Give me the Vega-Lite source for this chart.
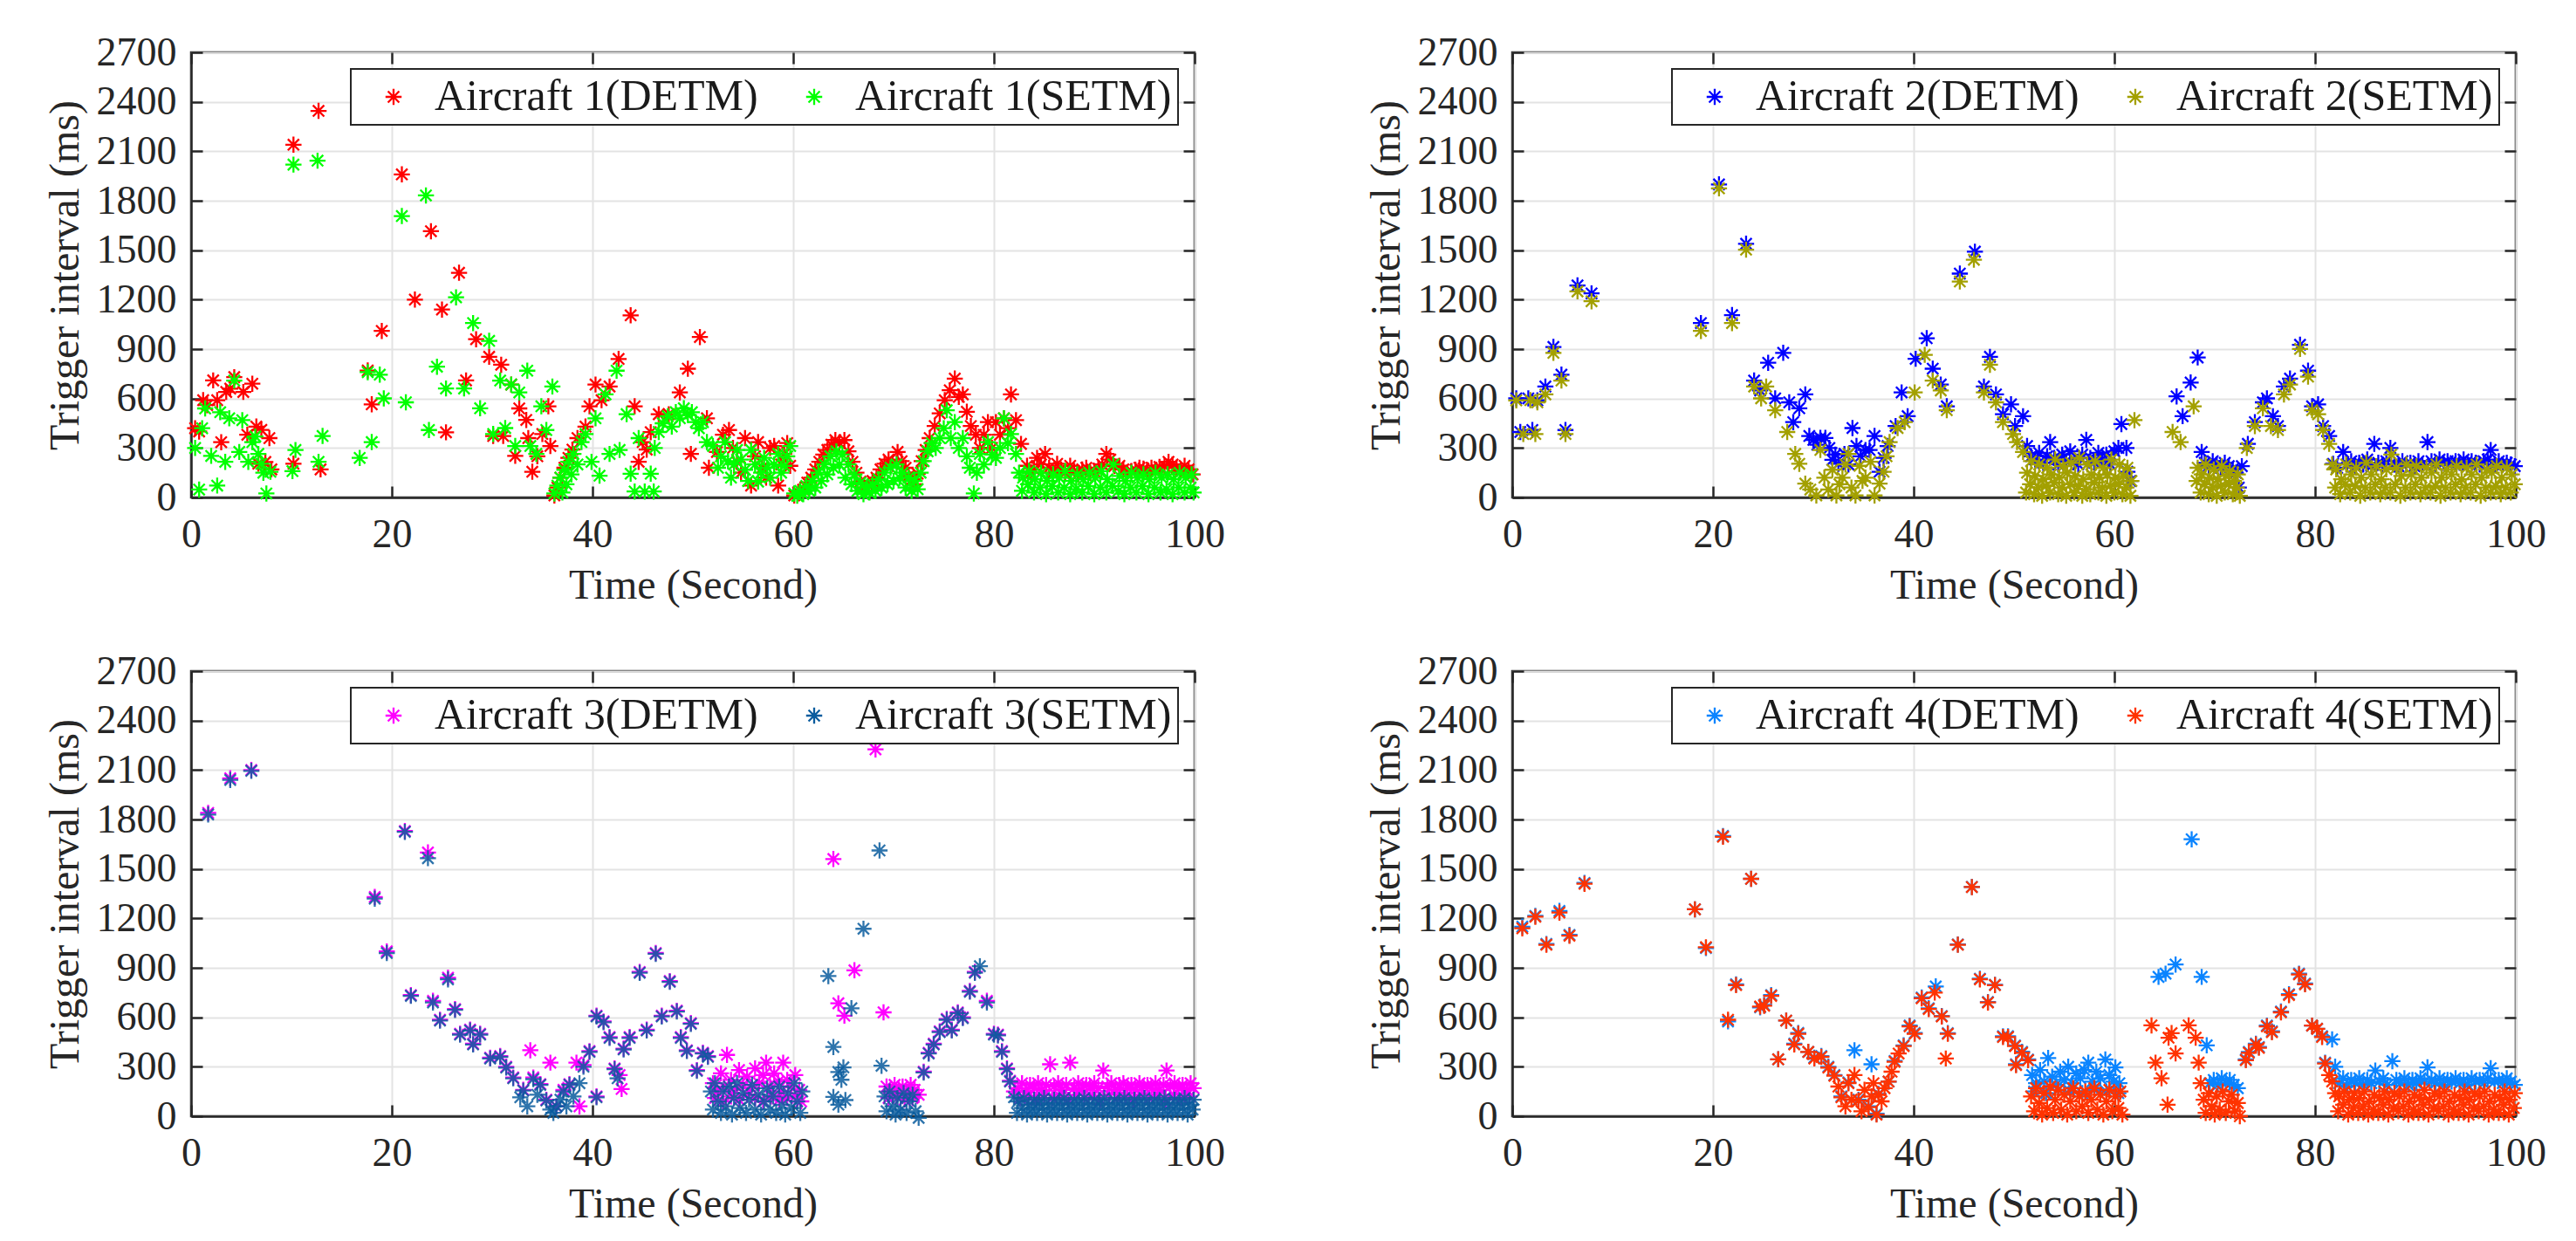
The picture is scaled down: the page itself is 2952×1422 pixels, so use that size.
{
  "$schema": "https://vega.github.io/schema/vega-lite/v6.json",
  "background": "white",
  "padding": {"left": 49, "top": 35, "right": 5, "bottom": 5},
  "config": {
    "font": "Liberation Serif",
    "view": {"stroke": "#262626", "strokeWidth": 2.5},
    "axis": {
      "labelFont": "Liberation Serif", "labelFontSize": 46, "labelColor": "#262626",
      "titleFont": "Liberation Serif", "titleFontSize": 48, "titleFontWeight": "normal", "titleColor": "#262626",
      "domainColor": "#262626", "domainWidth": 2.5, "tickColor": "#262626", "tickWidth": 2.5, "tickSize": -13,
      "gridColor": "#e3e3e3", "gridWidth": 2, "labelFlush": false, "labelOverlap": false, "format": "d"
    },
    "axisX": {"labelPadding": 33, "titlePadding": 12},
    "axisY": {"labelPadding": 30, "titlePadding": 11},
    "point": {"shape": "M-1,0L1,0M0,-1L0,1M-0.7,-0.7L0.7,0.7M-0.7,0.7L0.7,-0.7", "filled": false, "size": 340, "strokeWidth": 2.3, "opacity": 1},
    "legend": {
      "orient": "top-right", "offset": 19, "direction": "horizontal", "columns": 2, "gridAlign": "each",
      "labelFont": "Liberation Serif", "labelFontSize": 50, "labelColor": "#1a1a1a", "labelLimit": 900,
      "padding": 7, "strokeColor": "#262626", "strokeWidth": 2, "fillColor": "#ffffff",
      "symbolType": "M-1,0L1,0M0,-1L0,1M-0.7,-0.7L0.7,0.7M-0.7,0.7L0.7,-0.7",
      "symbolSize": 340, "symbolStrokeWidth": 2, "symbolOffset": 17, "labelOffset": 22, "columnPadding": 22
    }
  },
  "datasets": {
    "a1d": [
      {"t":0.4,"v":420},{"t":0.8,"v":400},{"t":1.2,"v":590},{"t":1.6,"v":560},{"t":2.2,"v":710},{"t":2.6,"v":590},{"t":3.0,"v":335},{"t":3.5,"v":640},{"t":3.9,"v":660},{"t":4.3,"v":730},{"t":5.2,"v":640},{"t":5.6,"v":380},{"t":6.1,"v":690},{"t":6.5,"v":430},{"t":6.7,"v":205},{"t":7.0,"v":410},{"t":7.4,"v":215},{"t":7.8,"v":360},{"t":8.0,"v":170},
      {"t":10.2,"v":2140},{"t":10.2,"v":205},{"t":12.7,"v":2345},{"t":12.9,"v":170},{"t":17.6,"v":770},{"t":18.0,"v":565},{"t":19.0,"v":1010},{"t":21.0,"v":1960},{"t":22.3,"v":1200},{"t":23.9,"v":1615},{"t":25.0,"v":1140},{"t":25.4,"v":395},{"t":26.7,"v":1363},{"t":27.4,"v":710},{"t":28.4,"v":960},{"t":29.7,"v":853},{"t":30.1,"v":373},{"t":30.9,"v":805},{"t":31.1,"v":373},{"t":31.9,"v":685},{"t":32.3,"v":252},{"t":32.7,"v":540},{"t":33.4,"v":470},{"t":33.6,"v":360},{"t":34.0,"v":156},{"t":34.5,"v":250},{"t":35.0,"v":385},{"t":35.6,"v":553},{"t":35.8,"v":312},
      {"t":36.2,"v":12},{"t":36.5,"v":60},{"t":36.8,"v":120},{"t":37.2,"v":180},{"t":37.6,"v":240},{"t":38.0,"v":290},{"t":38.5,"v":360},{"t":39.3,"v":430},{"t":39.7,"v":553},{"t":40.3,"v":685},{"t":40.9,"v":590},{"t":41.7,"v":673},{"t":42.6,"v":840},{"t":43.8,"v":1105},{"t":44.2,"v":553},{"t":44.6,"v":216},{"t":45.0,"v":336},{"t":45.4,"v":290},{"t":45.8,"v":396},{"t":46.6,"v":505},{"t":47.6,"v":505},{"t":48.7,"v":637},{"t":49.5,"v":781},{"t":49.8,"v":264},{"t":50.7,"v":973},{"t":51.4,"v":480},{"t":51.6,"v":180},{"t":52.4,"v":276},{"t":53.0,"v":380},{"t":53.6,"v":409},{"t":54.0,"v":300},{"t":54.4,"v":216},{"t":54.8,"v":150},{"t":55.2,"v":360},{"t":55.8,"v":72},{"t":56.2,"v":250},{"t":56.5,"v":336},{"t":56.9,"v":180},{"t":57.3,"v":120},{"t":57.7,"v":300},{"t":58.1,"v":312},{"t":58.5,"v":72},{"t":58.8,"v":200},{"t":59.1,"v":264},{"t":59.4,"v":330},{"t":59.7,"v":192},
      {"t":60.1,"v":12},{"t":60.5,"v":30},{"t":61.0,"v":48},{"t":61.4,"v":90},{"t":61.8,"v":120},{"t":62.2,"v":170},{"t":62.6,"v":216},{"t":63.0,"v":260},{"t":63.4,"v":288},{"t":63.8,"v":320},{"t":64.2,"v":348},{"t":64.6,"v":330},{"t":65.1,"v":348},{"t":65.5,"v":280},{"t":65.9,"v":216},{"t":66.3,"v":150},{"t":66.7,"v":96},{"t":67.1,"v":60},{"t":67.5,"v":72},{"t":67.9,"v":100},{"t":68.3,"v":120},{"t":68.7,"v":170},{"t":69.1,"v":204},{"t":69.5,"v":230},{"t":69.9,"v":204},{"t":70.4,"v":276},{"t":70.8,"v":220},{"t":71.2,"v":180},{"t":71.5,"v":130},{"t":71.8,"v":108},{"t":72.1,"v":80},{"t":72.4,"v":144},{"t":72.8,"v":220},{"t":73.2,"v":288},{"t":73.6,"v":360},{"t":74.1,"v":433},{"t":74.6,"v":510},{"t":75.1,"v":590},{"t":75.6,"v":650},{"t":76.1,"v":721},{"t":76.5,"v":610},{"t":76.9,"v":625},{"t":77.3,"v":520},{"t":77.7,"v":433},{"t":78.2,"v":380},{"t":78.6,"v":300},{"t":79.0,"v":380},{"t":79.4,"v":457},{"t":79.8,"v":300},{"t":80.2,"v":457},{"t":80.6,"v":380},{"t":81.0,"v":480},{"t":81.4,"v":420},{"t":81.7,"v":625},{"t":82.2,"v":469},{"t":82.7,"v":325},
      {"t":83.3,"v":192},{"t":83.7,"v":150},{"t":84.0,"v":170},{"t":84.3,"v":240},{"t":84.7,"v":200},{"t":85.1,"v":264},{"t":85.5,"v":180},{"t":85.9,"v":150},{"t":86.3,"v":204},{"t":86.7,"v":170},{"t":87.1,"v":150},{"t":87.6,"v":192},{"t":88.0,"v":160},{"t":88.4,"v":140},{"t":88.8,"v":170},{"t":89.2,"v":180},{"t":89.6,"v":150},{"t":90.0,"v":160},{"t":90.4,"v":175},{"t":90.8,"v":200},{"t":91.2,"v":264},{"t":91.6,"v":230},{"t":92.0,"v":190},{"t":92.5,"v":192},{"t":92.9,"v":170},{"t":93.3,"v":150},{"t":93.7,"v":160},{"t":94.1,"v":168},{"t":94.5,"v":180},{"t":94.9,"v":175},{"t":95.3,"v":165},{"t":95.7,"v":180},{"t":96.1,"v":160},{"t":96.5,"v":185},{"t":97.0,"v":190},{"t":97.4,"v":216},{"t":97.8,"v":200},{"t":98.2,"v":180},{"t":98.6,"v":160},{"t":99.0,"v":192},{"t":99.4,"v":170},{"t":99.8,"v":140}
    ],
    "a1s": [
      {"t":0.4,"v":300},{"t":0.8,"v":48},{"t":1.1,"v":420},{"t":1.4,"v":540},{"t":2.0,"v":252},{"t":2.6,"v":72},{"t":2.9,"v":517},{"t":3.4,"v":216},{"t":3.8,"v":480},{"t":4.3,"v":709},{"t":4.8,"v":276},{"t":5.1,"v":469},{"t":5.7,"v":216},{"t":6.1,"v":336},{"t":6.4,"v":370},{"t":6.7,"v":264},{"t":7.0,"v":204},{"t":7.2,"v":150},{"t":7.5,"v":24},{"t":7.9,"v":156},
      {"t":10.2,"v":2019},{"t":10.4,"v":288},{"t":10.1,"v":160},{"t":12.6,"v":2043},{"t":12.7,"v":216},{"t":13.1,"v":373},{"t":16.8,"v":240},{"t":17.6,"v":760},{"t":18.0,"v":336},{"t":18.8,"v":745},{"t":19.2,"v":601},{"t":21.0,"v":1707},{"t":21.4,"v":577},{"t":23.4,"v":1832},{"t":23.7,"v":409},{"t":24.5,"v":793},{"t":25.4,"v":661},{"t":26.4,"v":1214},{"t":27.2,"v":661},{"t":28.1,"v":1058},{"t":28.8,"v":541},{"t":29.7,"v":950},{"t":30.1,"v":385},{"t":30.8,"v":709},{"t":31.3,"v":421},{"t":31.9,"v":685},{"t":32.3,"v":312},{"t":32.7,"v":637},{"t":33.5,"v":769},{"t":33.8,"v":312},{"t":34.4,"v":264},{"t":34.9,"v":553},{"t":35.4,"v":409},{"t":36.0,"v":673},
      {"t":36.2,"v":24},{"t":36.5,"v":72},{"t":36.8,"v":120},{"t":37.0,"v":30},{"t":37.2,"v":168},{"t":37.4,"v":80},{"t":37.6,"v":216},{"t":37.9,"v":140},{"t":38.1,"v":264},{"t":38.5,"v":200},{"t":38.9,"v":336},{"t":39.3,"v":385},{"t":39.9,"v":216},{"t":40.3,"v":480},{"t":40.7,"v":132},{"t":41.3,"v":625},{"t":41.7,"v":264},{"t":42.4,"v":769},{"t":42.7,"v":288},{"t":43.4,"v":505},{"t":43.8,"v":144},{"t":44.2,"v":36},{"t":44.6,"v":360},{"t":45.2,"v":36},{"t":45.8,"v":144},{"t":46.1,"v":36},{"t":46.2,"v":300},{"t":46.6,"v":397},{"t":47.0,"v":450},{"t":47.5,"v":493},{"t":47.9,"v":430},{"t":48.3,"v":517},{"t":48.7,"v":480},{"t":49.1,"v":541},{"t":49.5,"v":500},{"t":49.9,"v":517},{"t":50.3,"v":457},{"t":50.6,"v":420},{"t":51.0,"v":457},{"t":51.4,"v":336},
      {"t":52.0,"v":312},{"t":52.5,"v":180},{"t":52.8,"v":250},{"t":53.2,"v":336},{"t":53.5,"v":220},{"t":53.8,"v":120},{"t":54.1,"v":200},{"t":54.4,"v":288},{"t":54.8,"v":230},{"t":55.2,"v":168},{"t":55.5,"v":100},{"t":55.8,"v":288},{"t":56.2,"v":200},{"t":56.5,"v":96},{"t":56.8,"v":150},{"t":57.1,"v":240},{"t":57.4,"v":180},{"t":57.7,"v":120},{"t":58.1,"v":200},{"t":58.5,"v":264},{"t":58.8,"v":150},{"t":59.1,"v":192},{"t":59.4,"v":250},{"t":59.7,"v":312},
      {"t":60.1,"v":24},{"t":60.4,"v":10},{"t":60.7,"v":40},{"t":61.0,"v":20},{"t":61.3,"v":70},{"t":61.6,"v":40},{"t":61.9,"v":100},{"t":62.2,"v":60},{"t":62.5,"v":150},{"t":62.8,"v":100},{"t":63.1,"v":200},{"t":63.4,"v":140},{"t":63.7,"v":250},{"t":64.0,"v":180},{"t":64.3,"v":280},{"t":64.6,"v":200},{"t":64.9,"v":260},{"t":65.2,"v":120},{"t":65.5,"v":200},{"t":65.8,"v":80},{"t":66.1,"v":140},{"t":66.4,"v":40},{"t":66.7,"v":90},{"t":67.0,"v":20},{"t":67.3,"v":60},{"t":67.6,"v":30},{"t":67.9,"v":80},{"t":68.2,"v":40},{"t":68.5,"v":110},{"t":68.8,"v":60},{"t":69.1,"v":150},{"t":69.4,"v":80},{"t":69.7,"v":180},{"t":70.0,"v":100},{"t":70.3,"v":200},{"t":70.6,"v":120},{"t":70.9,"v":150},{"t":71.2,"v":60},{"t":71.5,"v":120},{"t":71.8,"v":40},{"t":72.1,"v":100},{"t":72.4,"v":50},{"t":72.7,"v":150},{"t":73.0,"v":220},{"t":73.4,"v":280},{"t":73.8,"v":330},{"t":74.2,"v":300},{"t":74.6,"v":360},{"t":75.0,"v":420},{"t":75.3,"v":529},{"t":75.7,"v":360},{"t":76.1,"v":457},{"t":76.5,"v":300},{"t":76.9,"v":360},{"t":77.3,"v":250},{"t":77.6,"v":180},{"t":78.0,"v":24},{"t":78.3,"v":150},{"t":78.6,"v":264},{"t":79.0,"v":200},{"t":79.4,"v":336},{"t":79.8,"v":260},{"t":80.2,"v":240},{"t":80.6,"v":300},{"t":81.0,"v":480},{"t":81.4,"v":330},{"t":81.7,"v":385},{"t":82.2,"v":264},{"t":82.5,"v":150},
      {"t":82.8,"v":40},{"t":82.9,"v":120},{"t":83.4,"v":80},{"t":83.5,"v":160},{"t":84.0,"v":30},{"t":84.1,"v":110},{"t":84.6,"v":60},{"t":84.7,"v":150},{"t":85.2,"v":20},{"t":85.3,"v":100},{"t":85.8,"v":70},{"t":85.9,"v":140},{"t":86.4,"v":30},{"t":86.5,"v":120},{"t":87.0,"v":60},{"t":87.1,"v":160},{"t":87.6,"v":20},{"t":87.7,"v":100},{"t":88.2,"v":50},{"t":88.3,"v":140},{"t":88.8,"v":30},{"t":88.9,"v":110},{"t":89.4,"v":70},{"t":89.5,"v":150},{"t":90.0,"v":20},{"t":90.1,"v":120},{"t":90.6,"v":60},{"t":90.7,"v":160},{"t":91.2,"v":30},{"t":91.3,"v":110},{"t":91.8,"v":70},{"t":91.9,"v":200},{"t":92.4,"v":40},{"t":92.5,"v":130},{"t":93.0,"v":20},{"t":93.1,"v":100},{"t":93.6,"v":60},{"t":93.7,"v":150},{"t":94.2,"v":30},{"t":94.3,"v":120},{"t":94.8,"v":70},{"t":94.9,"v":140},{"t":95.4,"v":20},{"t":95.5,"v":110},{"t":96.0,"v":60},{"t":96.1,"v":150},{"t":96.6,"v":30},{"t":96.7,"v":120},{"t":97.2,"v":50},{"t":97.3,"v":140},{"t":97.8,"v":20},{"t":97.9,"v":110},{"t":98.4,"v":60},{"t":98.5,"v":150},{"t":99.0,"v":30},{"t":99.1,"v":120},{"t":99.6,"v":60},{"t":99.7,"v":140},{"t":99.9,"v":30}
    ],
    "a2d": [
      {"t":0.4,"v":601},{"t":0.8,"v":397},{"t":1.6,"v":601},{"t":2.0,"v":409},{"t":2.5,"v":589},{"t":3.3,"v":673},{"t":4.1,"v":913},{"t":4.9,"v":745},{"t":5.3,"v":409},{"t":6.5,"v":1286},{"t":7.9,"v":1238},{"t":18.8,"v":1058},{"t":20.6,"v":1899},{"t":21.9,"v":1106},{"t":23.3,"v":1539},{"t":24.1,"v":709},{"t":24.7,"v":649},{"t":25.5,"v":817},{"t":26.2,"v":601},{"t":27.0,"v":877},{"t":27.6,"v":577},{"t":28.0,"v":457},{"t":28.6,"v":541},{"t":29.2,"v":625},{"t":29.6,"v":373},{"t":30.0,"v":349},{"t":30.4,"v":320},{"t":30.7,"v":361},{"t":31.2,"v":361},{"t":31.6,"v":300},{"t":31.9,"v":228},{"t":32.2,"v":260},{"t":32.5,"v":204},{"t":33.1,"v":264},{"t":33.5,"v":200},{"t":33.9,"v":421},{"t":34.3,"v":312},{"t":34.7,"v":250},{"t":35.2,"v":288},{"t":35.6,"v":288},{"t":36.1,"v":373},{"t":36.6,"v":156},{"t":37.0,"v":240},{"t":37.4,"v":312},{"t":38.2,"v":433},{"t":38.8,"v":637},{"t":39.4,"v":493},{"t":40.2,"v":841},{"t":41.3,"v":966},{"t":41.9,"v":781},{"t":42.7,"v":685},{"t":43.3,"v":553},{"t":44.6,"v":1358},{"t":46.1,"v":1491},{"t":47.0,"v":673},{"t":47.6,"v":853},{"t":48.2,"v":625},{"t":48.9,"v":505},{"t":49.7,"v":565},{"t":50.1,"v":433},{"t":50.9,"v":493},{"t":51.3,"v":312},
      {"t":51.7,"v":250},{"t":52.1,"v":230},{"t":52.5,"v":270},{"t":52.9,"v":210},{"t":53.3,"v":250},{"t":53.6,"v":336},{"t":54.0,"v":240},{"t":54.4,"v":200},{"t":54.8,"v":260},{"t":55.2,"v":220},{"t":55.6,"v":280},{"t":56.0,"v":230},{"t":56.4,"v":200},{"t":56.8,"v":260},{"t":57.2,"v":349},{"t":57.6,"v":240},{"t":58.0,"v":210},{"t":58.4,"v":270},{"t":58.8,"v":230},{"t":59.2,"v":260},{"t":59.6,"v":200},{"t":60.0,"v":280},{"t":60.4,"v":300},{"t":60.7,"v":445},{"t":61.2,"v":300},{"t":61.3,"v":156},{"t":61.6,"v":100},
      {"t":66.2,"v":613},{"t":66.8,"v":493},{"t":67.6,"v":697},{"t":68.3,"v":849},{"t":68.7,"v":276},{"t":69.0,"v":210},{"t":69.4,"v":190},{"t":69.8,"v":220},{"t":70.2,"v":200},{"t":70.6,"v":180},{"t":71.0,"v":210},{"t":71.4,"v":190},{"t":71.8,"v":170},{"t":72.1,"v":150},{"t":72.4,"v":60},{"t":72.7,"v":190},{"t":73.3,"v":325},{"t":74.0,"v":457},{"t":74.8,"v":577},{"t":75.2,"v":601},{"t":75.8,"v":493},{"t":76.3,"v":433},{"t":76.9,"v":673},{"t":77.5,"v":721},{"t":78.5,"v":926},{"t":79.3,"v":769},{"t":79.7,"v":553},{"t":80.3,"v":565},{"t":80.8,"v":433},{"t":81.4,"v":373},{"t":81.8,"v":204},
      {"t":82.2,"v":180},{"t":82.8,"v":276},{"t":83.2,"v":200},{"t":83.6,"v":220},{"t":84.0,"v":190},{"t":84.4,"v":210},{"t":84.8,"v":200},{"t":85.2,"v":230},{"t":85.6,"v":190},{"t":85.9,"v":325},{"t":86.3,"v":210},{"t":86.7,"v":200},{"t":87.1,"v":220},{"t":87.5,"v":300},{"t":87.9,"v":200},{"t":88.3,"v":190},{"t":88.7,"v":220},{"t":89.1,"v":200},{"t":89.5,"v":210},{"t":89.9,"v":190},{"t":90.3,"v":220},{"t":90.7,"v":200},{"t":91.2,"v":336},{"t":91.6,"v":220},{"t":92.0,"v":200},{"t":92.4,"v":230},{"t":92.8,"v":210},{"t":93.2,"v":220},{"t":93.6,"v":200},{"t":94.0,"v":220},{"t":94.4,"v":210},{"t":94.8,"v":230},{"t":95.2,"v":200},{"t":95.6,"v":220},{"t":96.0,"v":210},{"t":96.4,"v":200},{"t":96.8,"v":220},{"t":97.2,"v":230},{"t":97.5,"v":288},{"t":97.9,"v":200},{"t":98.3,"v":220},{"t":98.7,"v":200},{"t":99.1,"v":210},{"t":99.5,"v":200},{"t":99.9,"v":190}
    ],
    "a2s": [
      {"t":0.4,"v":589},{"t":1.1,"v":385},{"t":1.8,"v":590},{"t":2.3,"v":385},{"t":2.5,"v":577},{"t":3.3,"v":625},{"t":4.1,"v":877},{"t":4.9,"v":709},{"t":5.3,"v":385},{"t":6.5,"v":1250},{"t":7.9,"v":1190},{"t":18.8,"v":1010},{"t":20.6,"v":1875},{"t":21.9,"v":1058},{"t":23.3,"v":1503},{"t":24.1,"v":673},{"t":24.8,"v":601},{"t":25.3,"v":673},{"t":26.2,"v":529},{"t":27.4,"v":397},{"t":28.2,"v":264},{"t":28.6,"v":204},{"t":29.2,"v":84},{"t":29.7,"v":48},{"t":30.3,"v":12},{"t":30.7,"v":288},{"t":31.1,"v":120},{"t":31.5,"v":48},{"t":31.9,"v":168},{"t":32.3,"v":12},{"t":32.6,"v":80},{"t":32.9,"v":120},{"t":33.2,"v":200},{"t":33.5,"v":264},{"t":33.8,"v":60},{"t":34.2,"v":12},{"t":34.6,"v":192},{"t":34.9,"v":100},{"t":35.2,"v":120},{"t":35.7,"v":216},{"t":36.1,"v":12},{"t":36.6,"v":84},{"t":37.0,"v":156},{"t":37.3,"v":250},{"t":37.6,"v":336},{"t":38.4,"v":421},{"t":39.1,"v":457},{"t":40.1,"v":637},{"t":41.1,"v":865},{"t":41.9,"v":709},{"t":42.7,"v":649},{"t":43.3,"v":529},{"t":44.6,"v":1310},{"t":46.0,"v":1442},{"t":47.0,"v":637},{"t":47.6,"v":805},{"t":48.2,"v":577},{"t":48.9,"v":457},{"t":49.9,"v":385},{"t":50.3,"v":336},{"t":50.9,"v":276},
      {"t":51.2,"v":30},{"t":51.3,"v":150},{"t":51.6,"v":80},{"t":51.7,"v":220},{"t":52.0,"v":20},{"t":52.1,"v":130},{"t":52.4,"v":60},{"t":52.5,"v":200},{"t":52.8,"v":10},{"t":52.9,"v":110},{"t":53.2,"v":70},{"t":53.3,"v":180},{"t":53.6,"v":30},{"t":53.7,"v":140},{"t":54.0,"v":90},{"t":54.1,"v":230},{"t":54.4,"v":20},{"t":54.5,"v":120},{"t":54.8,"v":60},{"t":54.9,"v":190},{"t":55.2,"v":10},{"t":55.3,"v":150},{"t":55.6,"v":80},{"t":55.7,"v":210},{"t":56.0,"v":30},{"t":56.1,"v":130},{"t":56.4,"v":70},{"t":56.5,"v":240},{"t":56.8,"v":10},{"t":56.9,"v":110},{"t":57.2,"v":50},{"t":57.3,"v":200},{"t":57.6,"v":20},{"t":57.7,"v":140},{"t":58.0,"v":90},{"t":58.1,"v":220},{"t":58.4,"v":30},{"t":58.5,"v":120},{"t":58.8,"v":60},{"t":58.9,"v":180},{"t":59.2,"v":10},{"t":59.3,"v":140},{"t":59.6,"v":70},{"t":59.7,"v":230},{"t":60.0,"v":30},{"t":60.1,"v":120},{"t":60.4,"v":80},{"t":60.5,"v":200},{"t":60.8,"v":20},{"t":60.9,"v":130},{"t":61.2,"v":60},{"t":61.3,"v":180},{"t":61.6,"v":10},{"t":61.7,"v":100},{"t":62.0,"v":469},
      {"t":65.8,"v":397},{"t":66.6,"v":336},{"t":67.9,"v":553},
      {"t":68.2,"v":100},{"t":68.3,"v":180},{"t":68.6,"v":30},{"t":68.7,"v":140},{"t":69.0,"v":80},{"t":69.1,"v":200},{"t":69.4,"v":20},{"t":69.5,"v":120},{"t":69.8,"v":60},{"t":69.9,"v":170},{"t":70.2,"v":10},{"t":70.3,"v":110},{"t":70.6,"v":70},{"t":70.7,"v":190},{"t":71.0,"v":30},{"t":71.1,"v":130},{"t":71.4,"v":80},{"t":71.5,"v":160},{"t":71.8,"v":20},{"t":71.9,"v":100},{"t":72.2,"v":60},{"t":72.3,"v":140},{"t":72.5,"v":10},
      {"t":73.2,"v":300},{"t":74.0,"v":433},{"t":74.8,"v":541},{"t":75.6,"v":433},{"t":76.3,"v":409},{"t":76.9,"v":625},{"t":77.5,"v":685},{"t":78.5,"v":901},{"t":79.3,"v":733},{"t":79.7,"v":529},{"t":80.3,"v":505},{"t":80.8,"v":409},{"t":81.4,"v":325},{"t":81.7,"v":200},
      {"t":82.0,"v":60},{"t":82.1,"v":170},{"t":82.5,"v":20},{"t":82.6,"v":110},{"t":83.0,"v":80},{"t":83.1,"v":200},{"t":83.5,"v":30},{"t":83.6,"v":140},{"t":84.0,"v":70},{"t":84.1,"v":180},{"t":84.5,"v":10},{"t":84.6,"v":120},{"t":85.0,"v":60},{"t":85.1,"v":210},{"t":85.5,"v":30},{"t":85.6,"v":140},{"t":86.0,"v":80},{"t":86.1,"v":190},{"t":86.5,"v":20},{"t":86.6,"v":110},{"t":87.0,"v":60},{"t":87.1,"v":170},{"t":87.5,"v":30},{"t":87.6,"v":260},{"t":88.0,"v":80},{"t":88.1,"v":180},{"t":88.5,"v":10},{"t":88.6,"v":130},{"t":89.0,"v":60},{"t":89.1,"v":200},{"t":89.5,"v":30},{"t":89.6,"v":140},{"t":90.0,"v":80},{"t":90.1,"v":190},{"t":90.5,"v":20},{"t":90.6,"v":120},{"t":91.0,"v":60},{"t":91.1,"v":180},{"t":91.5,"v":30},{"t":91.6,"v":150},{"t":92.0,"v":70},{"t":92.1,"v":200},{"t":92.5,"v":10},{"t":92.6,"v":120},{"t":93.0,"v":60},{"t":93.1,"v":170},{"t":93.5,"v":30},{"t":93.6,"v":140},{"t":94.0,"v":80},{"t":94.1,"v":190},{"t":94.5,"v":20},{"t":94.6,"v":110},{"t":95.0,"v":60},{"t":95.1,"v":180},{"t":95.5,"v":30},{"t":95.6,"v":140},{"t":96.0,"v":80},{"t":96.1,"v":200},{"t":96.5,"v":10},{"t":96.6,"v":120},{"t":97.0,"v":60},{"t":97.1,"v":170},{"t":97.5,"v":30},{"t":97.6,"v":150},{"t":98.0,"v":70},{"t":98.1,"v":190},{"t":98.5,"v":20},{"t":98.6,"v":120},{"t":99.0,"v":60},{"t":99.1,"v":180},{"t":99.5,"v":30},{"t":99.6,"v":140},{"t":99.9,"v":80}
    ],
    "a3d": [
      {"t":1.7,"v":1840},{"t":3.9,"v":2050},{"t":6.0,"v":2100},{"t":18.3,"v":1330},{"t":19.5,"v":1000},{"t":21.3,"v":1730},{"t":23.6,"v":1600},{"t":21.9,"v":735},{"t":24.1,"v":700},{"t":25.6,"v":840},{"t":24.8,"v":585},{"t":26.3,"v":650},{"t":26.8,"v":500},{"t":27.8,"v":525},{"t":28.8,"v":500},{"t":28.1,"v":440},{"t":29.8,"v":355},{"t":30.8,"v":365},{"t":31.4,"v":300},{"t":32.1,"v":235},{"t":33.1,"v":160},{"t":33.8,"v":400},{"t":34.1,"v":235},{"t":34.8,"v":195},{"t":35.4,"v":100},{"t":35.8,"v":325},{"t":36.4,"v":60},{"t":37.1,"v":160},{"t":37.7,"v":195},{"t":38.4,"v":325},{"t":38.7,"v":60},{"t":39.1,"v":310},{"t":39.7,"v":395},{"t":40.4,"v":120},{"t":40.4,"v":610},{"t":41.1,"v":575},{"t":41.7,"v":480},{"t":42.2,"v":290},{"t":42.7,"v":250},{"t":42.9,"v":165},{"t":43.1,"v":410},{"t":43.7,"v":480},{"t":44.7,"v":875},{"t":45.4,"v":525},{"t":46.3,"v":990},{"t":46.9,"v":610},{"t":47.7,"v":820},{"t":48.4,"v":640},{"t":48.8,"v":480},{"t":49.4,"v":400},{"t":49.8,"v":565},{"t":50.4,"v":280},{"t":51.0,"v":385},{"t":51.5,"v":365},
      {"t":52.0,"v":200},{"t":52.4,"v":150},{"t":52.8,"v":260},{"t":53.1,"v":180},{"t":53.4,"v":372},{"t":53.8,"v":220},{"t":54.2,"v":160},{"t":54.6,"v":280},{"t":55.0,"v":190},{"t":55.4,"v":240},{"t":55.8,"v":170},{"t":56.2,"v":290},{"t":56.6,"v":200},{"t":57.0,"v":250},{"t":57.3,"v":325},{"t":57.7,"v":180},{"t":58.1,"v":260},{"t":58.5,"v":210},{"t":58.8,"v":150},{"t":59.0,"v":325},{"t":59.4,"v":220},{"t":59.8,"v":180},{"t":60.2,"v":250},{"t":60.6,"v":160},
      {"t":52.2,"v":110},{"t":53.0,"v":90},{"t":53.8,"v":120},{"t":54.6,"v":100},{"t":55.4,"v":130},{"t":56.2,"v":110},{"t":57.0,"v":90},{"t":57.8,"v":120},{"t":58.6,"v":100},{"t":59.4,"v":110},{"t":60.2,"v":120},{"t":60.8,"v":90},
      {"t":64.0,"v":1560},{"t":64.5,"v":685},{"t":65.1,"v":610},{"t":66.1,"v":885},{"t":68.2,"v":2225},{"t":69.0,"v":630},
      {"t":69.3,"v":180},{"t":69.7,"v":150},{"t":70.1,"v":190},{"t":70.5,"v":160},{"t":70.9,"v":180},{"t":71.3,"v":150},{"t":71.7,"v":190},{"t":72.1,"v":160},{"t":72.5,"v":130},{"t":69.5,"v":110},{"t":70.3,"v":120},{"t":71.1,"v":100},{"t":71.9,"v":110},
      {"t":73.0,"v":270},{"t":73.5,"v":385},{"t":74.0,"v":440},{"t":74.6,"v":515},{"t":75.3,"v":590},{"t":75.8,"v":525},{"t":76.4,"v":630},{"t":76.9,"v":600},{"t":77.6,"v":760},{"t":78.1,"v":875},{"t":79.3,"v":700},{"t":80.0,"v":500},{"t":80.4,"v":495},{"t":80.8,"v":395},{"t":81.3,"v":290},{"t":81.6,"v":215},{"t":82.0,"v":150},
      {"t":82.4,"v":170},{"t":82.8,"v":200},{"t":83.2,"v":150},{"t":83.6,"v":190},{"t":84.0,"v":170},{"t":84.4,"v":200},{"t":84.8,"v":160},{"t":85.2,"v":190},{"t":85.6,"v":315},{"t":86.0,"v":180},{"t":86.4,"v":200},{"t":86.8,"v":160},{"t":87.2,"v":190},{"t":87.6,"v":325},{"t":88.0,"v":170},{"t":88.4,"v":200},{"t":88.8,"v":160},{"t":89.2,"v":190},{"t":89.6,"v":180},{"t":90.0,"v":200},{"t":90.4,"v":170},{"t":90.9,"v":277},{"t":91.3,"v":180},{"t":91.7,"v":200},{"t":92.1,"v":160},{"t":92.5,"v":190},{"t":92.9,"v":200},{"t":93.3,"v":170},{"t":93.7,"v":190},{"t":94.1,"v":160},{"t":94.5,"v":200},{"t":94.9,"v":180},{"t":95.3,"v":190},{"t":95.7,"v":170},{"t":96.1,"v":200},{"t":96.5,"v":160},{"t":96.9,"v":190},{"t":97.2,"v":277},{"t":97.6,"v":180},{"t":98.0,"v":200},{"t":98.4,"v":170},{"t":98.8,"v":190},{"t":99.2,"v":160},{"t":99.6,"v":200},{"t":99.9,"v":170},
      {"t":82.6,"v":110},{"t":83.4,"v":120},{"t":84.2,"v":100},{"t":85.0,"v":130},{"t":85.8,"v":110},{"t":86.6,"v":120},{"t":87.4,"v":100},{"t":88.2,"v":130},{"t":89.0,"v":110},{"t":89.8,"v":120},{"t":90.6,"v":100},{"t":91.5,"v":130},{"t":92.3,"v":110},{"t":93.1,"v":120},{"t":93.9,"v":100},{"t":94.7,"v":130},{"t":95.5,"v":110},{"t":96.3,"v":120},{"t":97.1,"v":100},{"t":97.9,"v":130},{"t":98.7,"v":110},{"t":99.5,"v":120}
    ],
    "a3s": [
      {"t":1.7,"v":1830},{"t":3.9,"v":2040},{"t":6.0,"v":2095},{"t":18.3,"v":1320},{"t":19.5,"v":990},{"t":21.3,"v":1725},{"t":23.6,"v":1565},{"t":21.9,"v":730},{"t":24.1,"v":690},{"t":25.6,"v":830},{"t":24.8,"v":580},{"t":26.3,"v":645},{"t":26.8,"v":495},{"t":27.8,"v":520},{"t":28.8,"v":495},{"t":28.1,"v":435},{"t":29.8,"v":350},{"t":30.8,"v":360},{"t":31.4,"v":295},{"t":32.1,"v":230},{"t":32.8,"v":115},{"t":33.1,"v":155},{"t":33.5,"v":60},{"t":34.1,"v":225},{"t":34.5,"v":130},{"t":34.8,"v":190},{"t":35.4,"v":95},{"t":35.8,"v":40},{"t":36.1,"v":20},{"t":36.4,"v":60},{"t":36.8,"v":100},{"t":37.1,"v":150},{"t":37.4,"v":60},{"t":37.7,"v":190},{"t":38.1,"v":120},{"t":38.7,"v":200},{"t":39.1,"v":300},{"t":39.7,"v":390},{"t":40.4,"v":115},{"t":40.4,"v":605},{"t":41.1,"v":570},{"t":41.7,"v":475},{"t":42.2,"v":285},{"t":42.5,"v":230},{"t":43.1,"v":405},{"t":43.7,"v":475},{"t":44.7,"v":870},{"t":45.4,"v":520},{"t":46.3,"v":985},{"t":46.9,"v":605},{"t":47.7,"v":815},{"t":48.4,"v":635},{"t":48.8,"v":475},{"t":49.4,"v":395},{"t":49.8,"v":560},{"t":50.4,"v":275},{"t":51.0,"v":380},{"t":51.5,"v":360},
      {"t":51.8,"v":150},{"t":52.0,"v":40},{"t":52.2,"v":200},{"t":52.5,"v":90},{"t":52.8,"v":20},{"t":53.0,"v":150},{"t":53.3,"v":60},{"t":53.6,"v":180},{"t":53.9,"v":10},{"t":54.1,"v":110},{"t":54.4,"v":200},{"t":54.7,"v":50},{"t":55.0,"v":140},{"t":55.3,"v":20},{"t":55.6,"v":100},{"t":55.9,"v":190},{"t":56.2,"v":40},{"t":56.5,"v":130},{"t":56.8,"v":10},{"t":57.1,"v":90},{"t":57.4,"v":170},{"t":57.7,"v":40},{"t":58.0,"v":120},{"t":58.3,"v":20},{"t":58.6,"v":180},{"t":58.9,"v":70},{"t":59.2,"v":10},{"t":59.5,"v":140},{"t":59.8,"v":50},{"t":60.1,"v":200},{"t":60.4,"v":90},{"t":60.7,"v":20},{"t":60.9,"v":150},
      {"t":63.5,"v":850},{"t":64.0,"v":420},{"t":64.5,"v":268},{"t":64.8,"v":221},{"t":65.0,"v":296},{"t":64.0,"v":117},{"t":64.5,"v":70},{"t":65.2,"v":98},{"t":65.8,"v":655},{"t":67.0,"v":1137},{"t":68.6,"v":1612},{"t":68.8,"v":306},
      {"t":69.1,"v":120},{"t":69.3,"v":30},{"t":69.6,"v":150},{"t":69.9,"v":60},{"t":70.2,"v":10},{"t":70.4,"v":110},{"t":70.7,"v":40},{"t":71.0,"v":140},{"t":71.3,"v":20},{"t":71.6,"v":90},{"t":71.9,"v":130},{"t":72.2,"v":30},{"t":72.5,"v":-10},
      {"t":73.0,"v":265},{"t":73.5,"v":380},{"t":74.0,"v":435},{"t":74.6,"v":510},{"t":75.3,"v":585},{"t":75.8,"v":520},{"t":76.4,"v":625},{"t":76.9,"v":595},{"t":77.6,"v":755},{"t":78.1,"v":870},{"t":78.6,"v":910},{"t":79.3,"v":690},{"t":80.0,"v":495},{"t":80.4,"v":490},{"t":80.8,"v":390},{"t":81.3,"v":285},{"t":81.6,"v":210},{"t":82.0,"v":115},
      {"t":82.3,"v":20},{"t":82.4,"v":90},{"t":82.8,"v":50},{"t":83.0,"v":110},{"t":83.3,"v":10},{"t":83.5,"v":70},{"t":83.8,"v":40},{"t":84.0,"v":100},{"t":84.3,"v":20},{"t":84.5,"v":80},{"t":84.8,"v":50},{"t":85.0,"v":110},{"t":85.3,"v":10},{"t":85.5,"v":70},{"t":85.8,"v":40},{"t":86.0,"v":100},{"t":86.3,"v":20},{"t":86.5,"v":80},{"t":86.8,"v":50},{"t":87.0,"v":110},{"t":87.3,"v":10},{"t":87.5,"v":70},{"t":87.8,"v":40},{"t":88.0,"v":100},{"t":88.3,"v":20},{"t":88.5,"v":80},{"t":88.8,"v":50},{"t":89.0,"v":110},{"t":89.3,"v":10},{"t":89.5,"v":70},{"t":89.8,"v":40},{"t":90.0,"v":100},{"t":90.3,"v":20},{"t":90.5,"v":80},{"t":90.8,"v":50},{"t":91.0,"v":110},{"t":91.3,"v":10},{"t":91.5,"v":70},{"t":91.8,"v":40},{"t":92.0,"v":100},{"t":92.3,"v":20},{"t":92.5,"v":80},{"t":92.8,"v":50},{"t":93.0,"v":110},{"t":93.3,"v":10},{"t":93.5,"v":70},{"t":93.8,"v":40},{"t":94.0,"v":100},{"t":94.3,"v":20},{"t":94.5,"v":80},{"t":94.8,"v":50},{"t":95.0,"v":110},{"t":95.3,"v":10},{"t":95.5,"v":70},{"t":95.8,"v":40},{"t":96.0,"v":100},{"t":96.3,"v":20},{"t":96.5,"v":80},{"t":96.8,"v":50},{"t":97.0,"v":110},{"t":97.3,"v":10},{"t":97.5,"v":70},{"t":97.8,"v":40},{"t":98.0,"v":100},{"t":98.3,"v":20},{"t":98.5,"v":80},{"t":98.8,"v":50},{"t":99.0,"v":110},{"t":99.3,"v":10},{"t":99.5,"v":70},{"t":99.8,"v":40},{"t":99.9,"v":100}
    ],
    "a4d": [
      {"t":1.0,"v":1150},{"t":2.3,"v":1215},{"t":3.4,"v":1045},{"t":4.7,"v":1245},{"t":5.7,"v":1100},{"t":7.2,"v":1415},{"t":18.2,"v":1255},{"t":19.3,"v":1020},{"t":21.0,"v":1700},{"t":21.5,"v":575},{"t":22.3,"v":800},{"t":23.8,"v":1440},{"t":24.7,"v":660},{"t":25.1,"v":675},{"t":25.8,"v":735},{"t":26.5,"v":345},{"t":27.3,"v":580},{"t":28.1,"v":440},{"t":28.5,"v":505},{"t":29.5,"v":390},{"t":30.1,"v":355},{"t":30.8,"v":365},{"t":31.5,"v":300},{"t":32.1,"v":250},{"t":32.8,"v":120},{"t":33.5,"v":205},{"t":34.1,"v":400},{"t":34.5,"v":100},{"t":35.5,"v":60},{"t":35.8,"v":315},{"t":36.3,"v":15},{"t":36.5,"v":135},{"t":37.5,"v":210},{"t":38.1,"v":335},{"t":39.0,"v":430},{"t":39.6,"v":550},{"t":40.1,"v":505},{"t":40.8,"v":720},{"t":41.5,"v":655},{"t":42.2,"v":787},{"t":42.8,"v":608},{"t":43.4,"v":504},{"t":44.4,"v":1042},{"t":45.8,"v":1391},{"t":46.6,"v":834},{"t":47.4,"v":693},{"t":48.1,"v":797},{"t":48.9,"v":485},{"t":49.4,"v":485},{"t":50.1,"v":429},{"t":50.2,"v":315},{"t":50.8,"v":391},{"t":51.4,"v":344},
      {"t":51.8,"v":250},{"t":52.2,"v":200},{"t":52.6,"v":280},{"t":53.0,"v":210},{"t":53.4,"v":353},{"t":53.8,"v":240},{"t":54.2,"v":190},{"t":54.6,"v":270},{"t":55.0,"v":220},{"t":55.4,"v":300},{"t":55.8,"v":200},{"t":56.2,"v":260},{"t":56.6,"v":230},{"t":57.0,"v":280},{"t":57.4,"v":325},{"t":57.8,"v":210},{"t":58.2,"v":270},{"t":58.6,"v":230},{"t":59.1,"v":344},{"t":59.5,"v":250},{"t":59.9,"v":210},{"t":60.1,"v":296},{"t":60.5,"v":200},
      {"t":52.0,"v":150},{"t":53.2,"v":140},{"t":54.4,"v":160},{"t":55.6,"v":150},{"t":56.8,"v":140},{"t":58.0,"v":160},{"t":59.2,"v":150},{"t":60.4,"v":140},
      {"t":64.4,"v":845},{"t":65.1,"v":865},{"t":66.1,"v":920},{"t":67.7,"v":1680},{"t":68.7,"v":845},{"t":69.2,"v":430},
      {"t":69.5,"v":200},{"t":69.9,"v":220},{"t":70.3,"v":190},{"t":70.7,"v":230},{"t":71.1,"v":200},{"t":71.5,"v":220},{"t":71.9,"v":190},{"t":72.3,"v":170},
      {"t":73.1,"v":345},{"t":73.4,"v":390},{"t":74.1,"v":440},{"t":74.4,"v":420},{"t":75.2,"v":550},{"t":75.7,"v":515},{"t":76.6,"v":635},{"t":77.4,"v":740},{"t":78.4,"v":865},{"t":79.0,"v":805},{"t":79.7,"v":550},{"t":80.2,"v":530},{"t":80.7,"v":485},{"t":81.0,"v":325},{"t":81.7,"v":466},{"t":82.0,"v":300},
      {"t":82.4,"v":200},{"t":82.8,"v":230},{"t":83.2,"v":180},{"t":83.6,"v":220},{"t":84.0,"v":200},{"t":84.4,"v":230},{"t":84.8,"v":190},{"t":85.2,"v":220},{"t":85.6,"v":200},{"t":86.0,"v":277},{"t":86.4,"v":210},{"t":86.8,"v":230},{"t":87.2,"v":190},{"t":87.7,"v":334},{"t":88.1,"v":220},{"t":88.5,"v":200},{"t":88.9,"v":230},{"t":89.3,"v":190},{"t":89.7,"v":220},{"t":90.1,"v":200},{"t":90.5,"v":230},{"t":90.9,"v":210},{"t":91.2,"v":296},{"t":91.6,"v":220},{"t":92.0,"v":200},{"t":92.4,"v":230},{"t":92.8,"v":190},{"t":93.2,"v":220},{"t":93.6,"v":210},{"t":94.0,"v":230},{"t":94.4,"v":200},{"t":94.8,"v":220},{"t":95.2,"v":190},{"t":95.6,"v":230},{"t":96.0,"v":210},{"t":96.4,"v":220},{"t":96.8,"v":200},{"t":97.2,"v":230},{"t":97.5,"v":291},{"t":97.9,"v":210},{"t":98.3,"v":220},{"t":98.7,"v":200},{"t":99.1,"v":230},{"t":99.5,"v":210},{"t":99.9,"v":190}
    ],
    "a4s": [
      {"t":1.0,"v":1140},{"t":2.3,"v":1210},{"t":3.4,"v":1040},{"t":4.7,"v":1235},{"t":5.7,"v":1095},{"t":7.2,"v":1410},{"t":18.2,"v":1255},{"t":19.3,"v":1025},{"t":21.0,"v":1695},{"t":21.5,"v":585},{"t":22.3,"v":795},{"t":23.8,"v":1440},{"t":24.7,"v":665},{"t":25.1,"v":670},{"t":25.8,"v":730},{"t":26.5,"v":345},{"t":27.3,"v":580},{"t":28.1,"v":435},{"t":28.5,"v":500},{"t":29.5,"v":390},{"t":30.1,"v":350},{"t":30.8,"v":360},{"t":31.5,"v":295},{"t":32.1,"v":245},{"t":32.5,"v":180},{"t":32.8,"v":115},{"t":33.2,"v":60},{"t":33.5,"v":200},{"t":33.8,"v":100},{"t":34.1,"v":250},{"t":34.5,"v":95},{"t":34.8,"v":30},{"t":35.1,"v":160},{"t":35.5,"v":55},{"t":35.8,"v":120},{"t":36.0,"v":200},{"t":36.3,"v":10},{"t":36.5,"v":130},{"t":36.8,"v":90},{"t":37.1,"v":170},{"t":37.5,"v":210},{"t":37.8,"v":270},{"t":38.1,"v":330},{"t":38.5,"v":380},{"t":39.0,"v":425},{"t":39.6,"v":545},{"t":40.1,"v":500},{"t":40.8,"v":715},{"t":41.5,"v":650},{"t":42.1,"v":750},{"t":42.8,"v":605},{"t":43.2,"v":350},{"t":43.4,"v":500},{"t":44.4,"v":1040},{"t":45.8,"v":1390},{"t":46.6,"v":830},{"t":47.4,"v":690},{"t":48.1,"v":795},{"t":48.9,"v":480},{"t":49.4,"v":480},{"t":50.1,"v":425},{"t":50.2,"v":310},{"t":50.8,"v":385},{"t":51.4,"v":340},
      {"t":51.7,"v":120},{"t":52.0,"v":30},{"t":52.2,"v":170},{"t":52.5,"v":80},{"t":52.8,"v":10},{"t":53.0,"v":140},{"t":53.3,"v":50},{"t":53.6,"v":180},{"t":53.9,"v":20},{"t":54.1,"v":100},{"t":54.4,"v":160},{"t":54.7,"v":40},{"t":55.0,"v":130},{"t":55.3,"v":10},{"t":55.6,"v":90},{"t":55.9,"v":170},{"t":56.2,"v":30},{"t":56.5,"v":120},{"t":56.8,"v":60},{"t":57.1,"v":150},{"t":57.4,"v":20},{"t":57.7,"v":100},{"t":58.0,"v":170},{"t":58.3,"v":40},{"t":58.6,"v":130},{"t":58.9,"v":10},{"t":59.2,"v":90},{"t":59.5,"v":160},{"t":59.8,"v":30},{"t":60.1,"v":120},{"t":60.4,"v":50},{"t":60.6,"v":150},{"t":60.8,"v":10},
      {"t":63.7,"v":551},{"t":64.1,"v":325},{"t":64.7,"v":230},{"t":65.3,"v":70},{"t":65.4,"v":476},{"t":65.7,"v":504},{"t":66.1,"v":381},{"t":67.4,"v":551},{"t":68.1,"v":476},{"t":68.4,"v":325},{"t":68.6,"v":200},
      {"t":68.9,"v":100},{"t":69.1,"v":20},{"t":69.4,"v":140},{"t":69.7,"v":60},{"t":70.0,"v":10},{"t":70.2,"v":120},{"t":70.5,"v":40},{"t":70.8,"v":150},{"t":71.1,"v":20},{"t":71.4,"v":90},{"t":71.7,"v":130},{"t":72.0,"v":30},{"t":72.3,"v":80},{"t":72.5,"v":0},
      {"t":73.1,"v":340},{"t":73.4,"v":385},{"t":74.1,"v":435},{"t":74.4,"v":415},{"t":75.2,"v":545},{"t":75.7,"v":510},{"t":76.6,"v":630},{"t":77.4,"v":735},{"t":78.4,"v":860},{"t":79.0,"v":800},{"t":79.7,"v":550},{"t":80.2,"v":530},{"t":80.7,"v":480},{"t":81.0,"v":320},{"t":81.4,"v":250},{"t":81.7,"v":211},{"t":82.0,"v":140},
      {"t":82.3,"v":30},{"t":82.4,"v":120},{"t":82.8,"v":70},{"t":82.9,"v":150},{"t":83.3,"v":10},{"t":83.4,"v":100},{"t":83.8,"v":50},{"t":83.9,"v":140},{"t":84.3,"v":20},{"t":84.4,"v":110},{"t":84.8,"v":60},{"t":84.9,"v":150},{"t":85.3,"v":10},{"t":85.4,"v":90},{"t":85.8,"v":40},{"t":85.9,"v":130},{"t":86.3,"v":20},{"t":86.4,"v":110},{"t":86.8,"v":70},{"t":86.9,"v":150},{"t":87.3,"v":10},{"t":87.4,"v":100},{"t":87.8,"v":50},{"t":87.9,"v":140},{"t":88.3,"v":30},{"t":88.4,"v":120},{"t":88.8,"v":60},{"t":88.9,"v":150},{"t":89.3,"v":10},{"t":89.4,"v":90},{"t":89.8,"v":40},{"t":89.9,"v":130},{"t":90.3,"v":20},{"t":90.4,"v":110},{"t":90.8,"v":70},{"t":90.9,"v":160},{"t":91.3,"v":10},{"t":91.4,"v":100},{"t":91.8,"v":50},{"t":91.9,"v":140},{"t":92.3,"v":30},{"t":92.4,"v":120},{"t":92.8,"v":60},{"t":92.9,"v":150},{"t":93.3,"v":10},{"t":93.4,"v":90},{"t":93.8,"v":40},{"t":93.9,"v":130},{"t":94.3,"v":20},{"t":94.4,"v":110},{"t":94.8,"v":70},{"t":94.9,"v":150},{"t":95.3,"v":10},{"t":95.4,"v":100},{"t":95.8,"v":50},{"t":95.9,"v":140},{"t":96.3,"v":30},{"t":96.4,"v":120},{"t":96.8,"v":60},{"t":96.9,"v":150},{"t":97.3,"v":10},{"t":97.4,"v":90},{"t":97.8,"v":40},{"t":97.9,"v":130},{"t":98.3,"v":20},{"t":98.4,"v":110},{"t":98.8,"v":70},{"t":98.9,"v":150},{"t":99.3,"v":10},{"t":99.4,"v":100},{"t":99.8,"v":50},{"t":99.9,"v":140}
    ]
  },
  "columns": 2,
  "spacing": {"row": 199, "column": 364},
  "bounds": "flush",
  "resolve": {"scale": {"color": "independent"}, "legend": {"color": "independent"}},
  "concat": [
    {
      "width": 1150, "height": 510,
      "layer": [
        {"data": {"name": "a1d"}, "mark": {"type": "point"},
         "encoding": {
           "x": {"field": "t", "type": "quantitative", "scale": {"domain": [0, 100], "nice": false}, "axis": {"values": [0, 20, 40, 60, 80, 100], "title": "Time (Second)"}},
           "y": {"field": "v", "type": "quantitative", "scale": {"domain": [0, 2700], "nice": false}, "axis": {"values": [0, 300, 600, 900, 1200, 1500, 1800, 2100, 2400, 2700], "title": "Trigger interval (ms)"}},
           "color": {"datum": "Aircraft 1(DETM)", "type": "nominal", "scale": {"domain": ["Aircraft 1(DETM)", "Aircraft 1(SETM)"], "range": ["#ff0000", "#00ff00"]}, "legend": {"title": null}}
         }},
        {"data": {"name": "a1s"}, "mark": {"type": "point"},
         "encoding": {
           "x": {"field": "t", "type": "quantitative", "axis": {"orient": "top", "values": [0, 20, 40, 60, 80, 100], "labels": false, "grid": false, "domain": false, "title": null}},
           "y": {"field": "v", "type": "quantitative", "axis": {"orient": "right", "values": [0, 300, 600, 900, 1200, 1500, 1800, 2100, 2400, 2700], "labels": false, "grid": false, "domain": false, "title": null}},
           "color": {"datum": "Aircraft 1(SETM)", "type": "nominal"}
         }}
      ],
      "resolve": {"axis": {"x": "independent", "y": "independent"}}
    },
    {
      "width": 1150, "height": 510,
      "layer": [
        {"data": {"name": "a2d"}, "mark": {"type": "point"},
         "encoding": {
           "x": {"field": "t", "type": "quantitative", "scale": {"domain": [0, 100], "nice": false}, "axis": {"values": [0, 20, 40, 60, 80, 100], "title": "Time (Second)"}},
           "y": {"field": "v", "type": "quantitative", "scale": {"domain": [0, 2700], "nice": false}, "axis": {"values": [0, 300, 600, 900, 1200, 1500, 1800, 2100, 2400, 2700], "title": "Trigger interval (ms)"}},
           "color": {"datum": "Aircraft 2(DETM)", "type": "nominal", "scale": {"domain": ["Aircraft 2(DETM)", "Aircraft 2(SETM)"], "range": ["#0000ff", "#a3a000"]}, "legend": {"title": null}}
         }},
        {"data": {"name": "a2s"}, "mark": {"type": "point"},
         "encoding": {
           "x": {"field": "t", "type": "quantitative", "axis": {"orient": "top", "values": [0, 20, 40, 60, 80, 100], "labels": false, "grid": false, "domain": false, "title": null}},
           "y": {"field": "v", "type": "quantitative", "axis": {"orient": "right", "values": [0, 300, 600, 900, 1200, 1500, 1800, 2100, 2400, 2700], "labels": false, "grid": false, "domain": false, "title": null}},
           "color": {"datum": "Aircraft 2(SETM)", "type": "nominal"}
         }}
      ],
      "resolve": {"axis": {"x": "independent", "y": "independent"}}
    },
    {
      "width": 1150, "height": 510,
      "layer": [
        {"data": {"name": "a3d"}, "mark": {"type": "point"},
         "encoding": {
           "x": {"field": "t", "type": "quantitative", "scale": {"domain": [0, 100], "nice": false}, "axis": {"values": [0, 20, 40, 60, 80, 100], "title": "Time (Second)"}},
           "y": {"field": "v", "type": "quantitative", "scale": {"domain": [0, 2700], "nice": false}, "axis": {"values": [0, 300, 600, 900, 1200, 1500, 1800, 2100, 2400, 2700], "title": "Trigger interval (ms)"}},
           "color": {"datum": "Aircraft 3(DETM)", "type": "nominal", "scale": {"domain": ["Aircraft 3(DETM)", "Aircraft 3(SETM)"], "range": ["#ff00ff", "#0a5c9e"]}, "legend": {"title": null}}
         }},
        {"data": {"name": "a3s"}, "mark": {"type": "point", "opacity": 0.85},
         "encoding": {
           "x": {"field": "t", "type": "quantitative", "axis": {"orient": "top", "values": [0, 20, 40, 60, 80, 100], "labels": false, "grid": false, "domain": false, "title": null}},
           "y": {"field": "v", "type": "quantitative", "axis": {"orient": "right", "values": [0, 300, 600, 900, 1200, 1500, 1800, 2100, 2400, 2700], "labels": false, "grid": false, "domain": false, "title": null}},
           "color": {"datum": "Aircraft 3(SETM)", "type": "nominal"}
         }}
      ],
      "resolve": {"axis": {"x": "independent", "y": "independent"}}
    },
    {
      "width": 1150, "height": 510,
      "layer": [
        {"data": {"name": "a4d"}, "mark": {"type": "point"},
         "encoding": {
           "x": {"field": "t", "type": "quantitative", "scale": {"domain": [0, 100], "nice": false}, "axis": {"values": [0, 20, 40, 60, 80, 100], "title": "Time (Second)"}},
           "y": {"field": "v", "type": "quantitative", "scale": {"domain": [0, 2700], "nice": false}, "axis": {"values": [0, 300, 600, 900, 1200, 1500, 1800, 2100, 2400, 2700], "title": "Trigger interval (ms)"}},
           "color": {"datum": "Aircraft 4(DETM)", "type": "nominal", "scale": {"domain": ["Aircraft 4(DETM)", "Aircraft 4(SETM)"], "range": ["#0a84ff", "#ff3300"]}, "legend": {"title": null}}
         }},
        {"data": {"name": "a4s"}, "mark": {"type": "point"},
         "encoding": {
           "x": {"field": "t", "type": "quantitative", "axis": {"orient": "top", "values": [0, 20, 40, 60, 80, 100], "labels": false, "grid": false, "domain": false, "title": null}},
           "y": {"field": "v", "type": "quantitative", "axis": {"orient": "right", "values": [0, 300, 600, 900, 1200, 1500, 1800, 2100, 2400, 2700], "labels": false, "grid": false, "domain": false, "title": null}},
           "color": {"datum": "Aircraft 4(SETM)", "type": "nominal"}
         }}
      ],
      "resolve": {"axis": {"x": "independent", "y": "independent"}}
    }
  ]
}
